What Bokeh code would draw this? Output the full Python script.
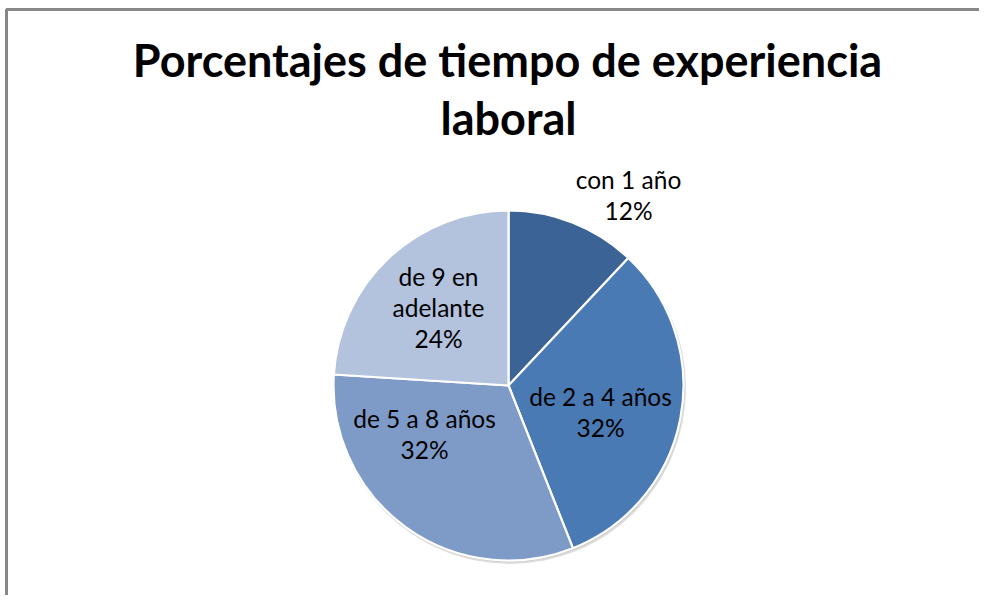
import math
from bokeh.plotting import figure
from bokeh.models import ColumnDataSource, Range1d
from bokeh.core.properties import value
from bokeh.embed import file_html
from bokeh.resources import INLINE

# ---- data ----
categories = ["con 1 año", "de 2 a 4 años", "de 5 a 8 años", "de 9 en adelante"]
percents = [12, 32, 32, 24]
label_lines = [["con 1 año", "12%"], ["de 2 a 4 años", "32%"],
               ["de 5 a 8 años", "32%"], ["de 9 en", "adelante", "24%"]]
title_lines = ["Porcentajes de tiempo de experiencia", "laboral"]

# ---- style ----
colors = ["#3C6395", "#4A7AB4", "#7E9BC8", "#B3C2DD"]
W, H = 979, 595


def py(page_y):
    return H - page_y


def px(page_x):
    return page_x


cx, cy, R = px(508), py(385), 175
FONT = "Lato"
# label anchor offsets (pixels from pie centre; x right, y down), first-line anchor
label_offsets = [(120, -206), (92, 11), (-84, 33), (-70, -109)]
line_gap = 31

p = figure(width=W, height=H, output_backend="svg", toolbar_location=None,
           x_range=Range1d(0, W), y_range=Range1d(0, H),
           min_border=0, outline_line_color=None)
p.axis.visible = False
p.grid.visible = False
p.background_fill_color = "white"
p.border_fill_color = "white"

total = sum(percents)
starts, ends = [], []
acc = 0.0
for v in percents:
    starts.append(math.pi / 2 - 2 * math.pi * acc / total)
    acc += v
    ends.append(math.pi / 2 - 2 * math.pi * acc / total)

# soft shadow
p.circle(x=[cx + 1.5], y=[cy - 2.5], radius=R + 1, fill_color="#9a9a9a",
         fill_alpha=0.35, line_color=None)
p.circle(x=[cx + 0.8], y=[cy - 1.2], radius=R + 0.5, fill_color="#9a9a9a",
         fill_alpha=0.35, line_color=None)

src = ColumnDataSource(dict(start=starts, end=ends, color=colors, cat=categories))
p.wedge(x=cx, y=cy, radius=R, start_angle="start", end_angle="end",
        direction="clock", fill_color="color", line_color="white",
        line_width=2.2, source=src)

# labels
xs, ys, ts = [], [], []
for lines, (dx, dy) in zip(label_lines, label_offsets):
    for k, t in enumerate(lines):
        xs.append(cx + dx)
        ys.append(cy - dy - k * line_gap)
        ts.append(t)
p.text(x=xs, y=ys, text=ts, text_font=value(FONT), text_font_size="24.5px",
       text_align="center", text_baseline="alphabetic", text_color="black")

# title
p.text(x=[px(507), px(508)], y=[py(59), py(117)], text=title_lines,
       text_font=value(FONT), text_font_size="45px", text_font_style="bold",
       text_align="center", text_baseline="alphabetic", text_color="black")

# chart-area border (top and left visible)
p.line(x=[px(6), px(6), W], y=[0, py(9), py(9)], line_color="#878787", line_width=3)

open("out.html", "w").write(file_html(p, INLINE))
